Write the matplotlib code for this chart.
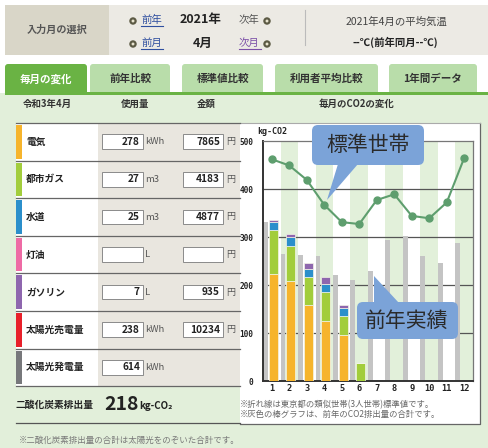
import numpy as np
import matplotlib
matplotlib.use('Agg')
import matplotlib.pyplot as plt
from matplotlib.patches import Rectangle, FancyBboxPatch, Polygon, Circle

plt.rcParams['font.family'] = ['Noto Sans CJK JP', 'DejaVu Sans']

# Data
months = np.arange(1, 13)
month_labels = [str(m) for m in months]
standard = [462, 449, 419, 367, 331, 327, 377, 389, 344, 339, 372, 465]
prev_year = [332, 265, 263, 261, 220, 210, 230, 294, 302, 261, 245, 288]
electric = [223, 208, 158, 126, 95, 0, 0, 0, 0, 0, 0, 0]
gas = [91, 74, 58, 59, 41, 38, 0, 0, 0, 0, 0, 0]
water = [18, 19, 17, 18, 16, 0, 0, 0, 0, 0, 0, 0]
gasoline = [4, 5, 12, 14, 7, 0, 0, 0, 0, 0, 0, 0]

row_labels = ['電気', '都市ガス', '水道', '灯油', 'ガソリン', '太陽光売電量', '太陽光発電量']
row_colors = ['#F6B42C', '#A2CD3C', '#2B8FCB', '#EE6BA5', '#8E66AE', '#E8202A', '#77787B']
usage = ['278', '27', '25', '', '7', '238', '614']
units = ['kWh', 'm3', 'm3', 'L', 'L', 'kWh', 'kWh']
amount = ['7865', '4183', '4877', '', '935', '10234', None]
tabs = ['毎月の変化', '前年比較', '標準値比較', '利用者平均比較', '1年間データ']
total_co2 = 218

fig = plt.figure(figsize=(4.88, 4.48), dpi=100)

# background / page layer in pixel coordinates
bg = fig.add_axes([0, 0, 1, 1])
bg.set_xlim(0, 488)
bg.set_ylim(448, 0)
bg.axis('off')

def rect(x0, y0, x1, y1, fc, ec='none', lw=0, z=1):
    bg.add_patch(Rectangle((x0, y0), x1 - x0, y1 - y0, fc=fc, ec=ec, lw=lw, zorder=z))

# header bar
rect(5, 5, 488, 55, '#ECEAE4')
rect(5, 5, 109, 55, '#D9D6C8')
bg.text(57, 30, '入力月の選択', ha='center', va='center', fontsize=7.3, color='#555', fontweight='bold')

def bullet(x, y):
    bg.add_patch(Circle((x, y), 2.6, fc='#E8E4CF', ec='#5C5A44', lw=1.6, zorder=3))

def link(x0, y, s, color, underline=True):
    bg.text(x0, y, s, ha='left', va='center', fontsize=7.5, color=color, zorder=3)
    if underline:
        bg.plot([x0, x0 + 22], [y + 6, y + 6], color=color, lw=0.8, zorder=3)

bullet(133, 21)
link(141, 20, '前年', '#2F4F9F')
bg.text(201, 20, '2021年', ha='center', va='center', fontsize=9, fontweight='bold', color='#222')
link(239, 20, '次年', '#555', underline=False)
bullet(267, 21)
bullet(133, 44)
link(141, 43, '前月', '#2F4F9F')
bg.text(203, 43, '4月', ha='center', va='center', fontsize=9, fontweight='bold', color='#222')
link(239, 43, '次月', '#7B4FA7')
bullet(267, 44)
bg.plot([305, 305], [10, 45], color='#BBB', lw=0.8)
bg.text(396, 22, '2021年4月の平均気温', ha='center', va='center', fontsize=7.5, color='#444')
bg.text(395, 42, '--℃(前年同月--℃)', ha='center', va='center', fontsize=7.5, color='#222', fontweight='bold')

# content area and tabs
rect(0, 93, 488, 448, '#E2EFDA')
tab_x = [(5, 87), (90, 170), (182, 263), (275, 378), (389, 477)]
for i, (name, (x0, x1)) in enumerate(zip(tabs, tab_x)):
    fc = '#6AB344' if i == 0 else '#B9DDAA'
    bg.add_patch(FancyBboxPatch((x0, 64), x1 - x0, 32, boxstyle='round,pad=0,rounding_size=3',
                                fc=fc, ec='none', zorder=2))
    bg.text((x0 + x1) / 2, 79, name, ha='center', va='center', fontsize=7.6, fontweight='bold',
            color='white' if i == 0 else '#333', zorder=3)
rect(5, 92, 488, 95, '#6AB344', z=4)
rect(0, 95, 488, 448, '#E2EFDA', z=2)

for x, s in [(47, '令和3年4月'), (135, '使用量'), (206, '金額'), (357, '毎月のCO2の変化')]:
    bg.text(x, 103.5, s, ha='center', va='center', fontsize=6.8, fontweight='bold', color='#333', zorder=5)

# table rows
row_top = 123
row_h = 37.6
for i, lab in enumerate(row_labels):
    y0 = row_top + i * row_h
    y1 = y0 + row_h
    rect(16, y0, 98, y1, 'white', z=3)
    rect(98, y0, 240, y1, '#E9E6DF', z=3)
    rect(16, y0 + 2, 22, y1 - 2, row_colors[i], z=4)
    bg.plot([16, 240], [y0, y0], color='#666', lw=0.9, zorder=5)
    yc = (y0 + y1) / 2
    bg.text(26, yc, lab, ha='left', va='center', fontsize=7, fontweight='bold', color='#222', zorder=5)
    rect(102, yc - 7.3, 142.5, yc + 7.3, 'white', ec='#8A8A8A', lw=0.7, z=5)
    bg.text(140, yc, usage[i], ha='right', va='center', fontsize=7.3, fontweight='bold', color='#222', zorder=6)
    bg.text(145, yc, units[i], ha='left', va='center', fontsize=6.8, color='#555', zorder=6)
    if amount[i] is not None:
        rect(182.5, yc - 7.3, 222.5, yc + 7.3, 'white', ec='#8A8A8A', lw=0.7, z=5)
        bg.text(220, yc, amount[i], ha='right', va='center', fontsize=7.3, fontweight='bold', color='#222', zorder=6)
        bg.text(226.5, yc, '円', ha='left', va='center', fontsize=6.5, color='#555', zorder=6)
bg.plot([16, 240], [row_top + 7 * row_h, row_top + 7 * row_h], color='#666', lw=0.9, zorder=5)

bg.text(16, 405, '二酸化炭素排出量', ha='left', va='center', fontsize=7, fontweight='bold', color='#222', zorder=5)
bg.text(104, 404, str(total_co2), ha='left', va='center', fontsize=14, fontweight='bold', color='#222', zorder=5)
bg.text(139, 406, 'kg-CO₂', ha='left', va='center', fontsize=7, fontweight='bold', color='#222', zorder=5)
bg.plot([16, 240], [423, 423], color='#555', lw=0.9, zorder=5)
bg.text(19, 440, '※二酸化炭素排出量の合計は太陽光をのぞいた合計です。', ha='left', va='center',
        fontsize=6.1, color='#777', zorder=5)

# chart panel
rect(240, 123, 479.5, 424, 'white', z=3)
bg.plot([240, 479.5, 479.5], [424, 424, 123], color='#666', lw=0.9, zorder=4)
bg.plot([240, 479.5], [123, 123], color='#AAA', lw=0.8, zorder=4)
bg.text(257, 131, 'kg-CO2', ha='left', va='center', fontsize=6, fontweight='bold',
        family='DejaVu Sans Mono', color='#222', zorder=5)
bg.text(240, 405, '※折れ線は東京都の類似世帯(3人世帯)標準値です。', ha='left', va='center',
        fontsize=6, color='#666', zorder=5)
bg.text(240, 414, '※灰色の棒グラフは、前年のCO2排出量の合計です。', ha='left', va='center',
        fontsize=6, color='#666', zorder=5)

# chart
ax = fig.add_axes([263 / 488, (448 - 381) / 448, 210 / 488, 240 / 448])
ax.set_facecolor('white')
for m in months:
    if m % 2 == 0:
        ax.axvspan(m - 0.5, m + 0.5, color='#E2F0DA', lw=0, zorder=0)
for yv in [100, 200, 300, 400]:
    ax.axhline(yv, color='#555', lw=0.9, zorder=1)

ax.bar(months - 0.36, prev_year, width=0.28, color='#C4C4C4', zorder=2)
stack = [(electric, '#F6B42C'), (gas, '#A2CD3C'), (water, '#2B8FCB'), (gasoline, '#8E66AE')]
bottom = np.zeros(12)
for vals, c in stack:
    vals = np.array(vals, dtype=float)
    ax.bar(months + 0.085, vals, width=0.54, bottom=bottom, color=c,
           edgecolor='#F4F4E8', lw=0.5, zorder=3)
    bottom += vals

ax.plot(months, standard, color='#5E9E6E', lw=1.5, marker='o', markersize=5, zorder=4)

ax.set_xlim(0.5, 12.5)
ax.set_ylim(0, 500)
ax.set_xticks(months)
ax.set_xticklabels(month_labels)
ax.set_yticks([0, 100, 200, 300, 400, 500])
ax.tick_params(length=0, labelsize=6.2, colors='#222', pad=2)
ax.tick_params(axis='y', labelsize=5.6, pad=7)
for lab in ax.get_xticklabels() + ax.get_yticklabels():
    lab.set_family('DejaVu Sans Mono')
    lab.set_fontweight('bold')
for s in ['left', 'bottom']:
    ax.spines[s].set_color('#333')
    ax.spines[s].set_linewidth(1.4)
for s in ['top', 'right']:
    ax.spines[s].set_color('#777')
    ax.spines[s].set_linewidth(0.9)

# callouts overlay
ov = fig.add_axes([0, 0, 1, 1], facecolor='none')
ov.set_xlim(0, 488)
ov.set_ylim(448, 0)
ov.axis('off')
blue = '#7BA3D8'
ov.add_patch(FancyBboxPatch((312, 125), 112, 40, boxstyle='round,pad=0,rounding_size=6',
                            fc=blue, ec='none'))
ov.add_patch(Polygon([(338, 164), (358, 164), (327, 200)], closed=True, fc=blue, ec='none'))
ov.text(368, 145, '標準世帯', ha='center', va='center', fontsize=15, color='#2A2A2A')
ov.add_patch(FancyBboxPatch((357, 302), 101, 37, boxstyle='round,pad=0,rounding_size=6',
                            fc=blue, ec='none'))
ov.add_patch(Polygon([(374, 276), (374, 303), (399, 303)], closed=True, fc=blue, ec='none'))
ov.text(407, 321, '前年実績', ha='center', va='center', fontsize=15, color='#2A2A2A')

fig.savefig('out.png', dpi=100)
